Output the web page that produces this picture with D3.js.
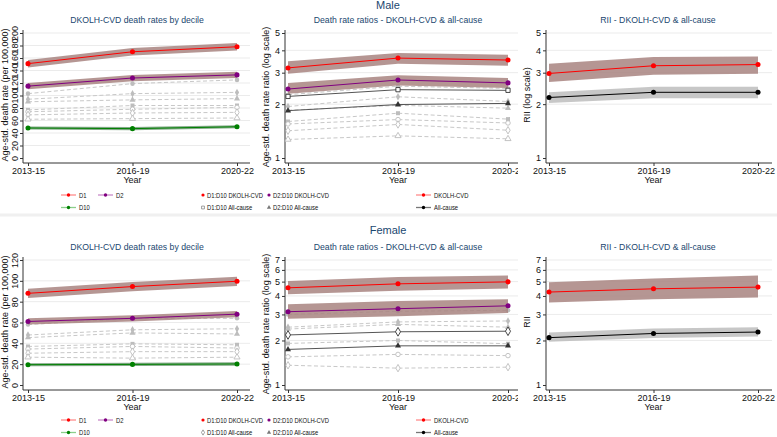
<!DOCTYPE html>
<html><head><meta charset="utf-8">
<script src="https://cdn.jsdelivr.net/npm/d3@7"></script>
<style>body{margin:0;background:#fff}svg{display:block;font-family:"Liberation Sans",Arial,sans-serif}</style>
</head><body><svg id="c" width="777" height="437"></svg>
<script>
const years = ["2013-15","2016-19","2020-22"];

// Male – death rates by decile
const mD1 = [151,170,178], mD1Lo=[145,164,172], mD1Hi=[157,176,184];
const mD2 = [115,128,133], mD2Lo=[110,123,128], mD2Hi=[120,133,138];
const mD10 = [48,47,50], mD10Lo=[45.5,44.5,47.5], mD10Hi=[50.5,49.5,52.5];
const mOther = [[103,119,125],[94,103,105],[90,93,95],[77,84,84],[74,78,81],[69,72,73],[62,63,64]];
// Male – rate ratios
const mR1 = [3.19,3.62,3.53], mR1Lo=[2.96,3.36,3.28], mR1Hi=[3.47,3.86,3.78];
const mR2 = [2.43,2.73,2.63], mR2Lo=[2.29,2.54,2.46], mR2Hi=[2.63,2.90,2.80];
const mA1 = [2.21,2.41,2.39];
const mA2 = [1.84,1.99,2.02];
const mROther = [[2.26,2.52,2.45],[1.94,2.20,2.07],[1.85,1.97,1.90],[1.60,1.78,1.65],[1.55,1.64,1.57],[1.42,1.54,1.43],[1.27,1.33,1.28]];
// Male – RII
const mRiiC = [2.97,3.28,3.33], mRiiCLo=[2.66,2.92,2.96], mRiiCHi=[3.36,3.67,3.70];
const mRiiA = [2.18,2.33,2.33], mRiiALo=[2.03,2.16,2.16], mRiiAHi=[2.33,2.50,2.50];

// Female – death rates by decile
const fD1 = [88,94.5,99.6], fD1Lo=[83.5,90,95], fD1Hi=[92.5,99,104];
const fD2 = [61,64,68], fD2Lo=[58,61,65], fD2Hi=[64,67,71];
const fD10 = [19.5,19.8,20.2], fD10Lo=[18,18.3,18.6], fD10Hi=[21,21.3,21.8];
const fOther = [[58,64,64],[48,53,54],[45.5,50,49],[37,39.5,38.6],[34.5,37,35.5],[30.5,32,32],[26.7,25.8,26.7]];
// Female – rate ratios
const fR1 = [4.54,4.83,4.98], fR1Lo=[4.10,4.34,4.50], fR1Hi=[5.05,5.37,5.50];
const fR2 = [3.13,3.28,3.43], fR2Lo=[2.80,2.92,3.07], fR2Hi=[3.52,3.70,3.80];
const fA1 = [2.18,2.29,2.31];
const fA2 = [1.74,1.84,1.84];
const fROther = [[3.0,3.15,3.2],[2.46,2.67,2.71],[2.39,2.57,2.46],[1.91,2.0,1.9],[1.55,1.61,1.58],[1.36,1.30,1.32]];
// Female – RII
const fRiiC = [4.25,4.47,4.59], fRiiCLo=[3.61,3.80,3.90], fRiiCHi=[4.95,5.24,5.51];
const fRiiA = [2.09,2.23,2.28], fRiiALo=[1.96,2.08,2.13], fRiiAHi=[2.26,2.41,2.46];

const rateTicksM = [0,20,40,60,80,100,120,140,160,180,200];
const rateTicksF = [0,20,40,60,80,100,120];
const logTicksM = [1,2,3,4,5];
const logTicksF = [1,2,3,4,5,6,7];

const svg = d3.select("#c");
const NAVY = "#1a476f", FONT = 9;
const RED="#ff0000", PURPLE="#800080", GREEN="#008000", BLACK="#000000", DGRAY="#555555", LGRAY="#c8c8c8";
const BAND_RED="#a88480", BAND_GREEN="#6f9a74", BAND_GRAY="#bdbdbd";
const otherShapes = [d3.symbolCircle,d3.symbolDiamond,d3.symbolTriangle,d3.symbolSquare,"hc","hd","ht"];

svg.append("line").attr("x1",0).attr("x2",777).attr("y1",215).attr("y2",215).attr("stroke","#f0f0f0").attr("stroke-width",3);

let clipId = 0;
function panel(o){
  const g = svg.append("g");
  if(o.clipRight){
    const id="clip"+(clipId++);
    svg.append("clipPath").attr("id",id).append("rect").attr("x",o.axX-40).attr("y",o.yB-160).attr("width",o.clipRight-(o.axX-40)).attr("height",200);
    g.attr("clip-path",`url(#${id})`);
  }
  const x = d3.scalePoint(years,[o.xL,o.xR]);
  const y = (o.log? d3.scaleLog(): d3.scaleLinear()).domain(o.domain).range([o.yB,o.yT]);
  const axisY = o.yB+5;
  g.selectAll(null).data(o.ticks.slice(1)).join("line")
    .attr("x1",o.axX+1).attr("x2",o.right).attr("y1",d=>y(d)).attr("y2",d=>y(d))
    .attr("stroke","#e6e6e6").attr("stroke-width",0.8);
  const ya = g.append("g").attr("transform",`translate(${o.axX},0)`)
    .call(d3.axisLeft(y).tickValues(o.ticks).tickFormat(d3.format("d")).tickSize(3).tickPadding(2));
  ya.select(".domain").attr("d",`M0,${axisY}V${y(o.domain[1])-3}`).attr("stroke","#333");
  ya.selectAll(".tick line").attr("stroke","#333");
  ya.selectAll("text").attr("font-size",FONT).attr("fill","#111").attr("font-family",null);
  if(o.rotate){
    ya.selectAll("text").attr("transform",`rotate(-90,-8,0)`).attr("text-anchor","middle").attr("x",-8).attr("dy","0.32em").attr("y",0);
  }
  const xa = g.append("g").attr("transform",`translate(0,${axisY})`)
    .call(d3.axisBottom(x).tickSize(3).tickPadding(2));
  xa.select(".domain").attr("d",`M${o.axX},0H${o.right}`).attr("stroke","#333");
  xa.selectAll(".tick line").attr("stroke","#333");
  xa.selectAll("text").attr("font-size",FONT).attr("fill","#111").attr("font-family",null);
  g.append("text").attr("x",x("2016-19")).attr("y",axisY+20).attr("text-anchor","middle").attr("font-size",FONT).attr("fill","#111").text("Year");
  g.append("text").attr("x",o.subX).attr("y",o.yT-10).attr("text-anchor","middle").attr("font-size",8.7).attr("fill",NAVY).text(o.subtitle);
  g.append("text").attr("transform",`translate(${o.ytX},${o.ytY}) rotate(-90)`).attr("text-anchor","middle").attr("font-size",FONT).attr("fill","#111").text(o.ytitle);

  const line = d3.line().x((d,i)=>x(years[i])).y(d=>y(d));
  const area = (lo,hi)=>d3.area().x((d,i)=>x(years[i])).y0((d,i)=>y(lo[i])).y1((d,i)=>y(hi[i]))(lo);
  const sym = (shape,cx,cy,col,size)=>{
    let hollow=false, s=shape;
    if(shape==="hc"){s=d3.symbolCircle;hollow=true}
    if(shape==="hd"){s=d3.symbolDiamond;hollow=true}
    if(shape==="ht"){s=d3.symbolTriangle;hollow=true}
    if(shape==="hs"){s=d3.symbolSquare;hollow=true}
    g.append("path").attr("d",d3.symbol(s,size)()).attr("transform",`translate(${cx},${cy})`)
      .attr("fill",hollow?"#fff":col).attr("stroke",col).attr("stroke-width",hollow?0.9:0);
  };
  (o.others||[]).forEach((s,k)=>{
    g.append("path").attr("d",line(s)).attr("fill","none").attr("stroke",LGRAY).attr("stroke-width",1).attr("stroke-dasharray","4,2.5");
    s.forEach((v,i)=>sym(otherShapes[k%otherShapes.length],x(years[i]),y(v),"#bdbdbd",16));
  });
  (o.bands||[]).forEach(b=>{
    g.append("path").attr("d",area(b.lo,b.hi)).attr("fill",b.color).attr("opacity",0.85);
  });
  (o.series||[]).forEach(s=>{
    g.append("path").attr("d",line(s.v)).attr("fill","none").attr("stroke",s.color).attr("stroke-width",s.w||1);
    s.v.forEach((v,i)=>sym(s.shape||d3.symbolCircle,x(years[i]),y(v),s.mcolor||s.color,s.size||20));
  });
}

function legText(x,y,label){
  const t = svg.append("text").attr("x",x).attr("y",y).attr("dy","0.35em").attr("font-size",7.5).attr("fill","#111").text(label);
  const w = t.node().getComputedTextLength();
  t.attr("textLength",w*0.78).attr("lengthAdjust","spacingAndGlyphs");
}
function legendLine(x,y,col,lcol,label){
  svg.append("line").attr("x1",x).attr("x2",x+15).attr("y1",y).attr("y2",y).attr("stroke",lcol).attr("stroke-width",1.3);
  svg.append("circle").attr("cx",x+7.5).attr("cy",y).attr("r",1.7).attr("fill",col);
  legText(x+18,y,label);
}
function legendSym(x,y,shape,col,hollow,label){
  svg.append("path").attr("d",d3.symbol(shape,8)()).attr("transform",`translate(${x},${y})`)
    .attr("fill",hollow?"#fff":col).attr("stroke",col).attr("stroke-width",hollow?0.7:0);
  legText(x+4,y,label);
}

function half(top, d){
  const yB = top+158, yT = top+33;
  svg.append("text").attr("x",388).attr("y",d.titleY).attr("text-anchor","middle").attr("font-size",11).attr("fill",NAVY).text(d.title);
  panel({axX:23,xL:28,xR:237,right:250,yB:yB,yT:yT,domain:d.rateDomain,ticks:d.rateTicks,rotate:true,
    subX:137,subtitle:"DKOLH-CVD death rates by decile",ytX:8,ytY:top+95,ytitle:"Age-std. death rate (per 100,000)",
    others:d.others,
    bands:[{lo:d.D1Lo,hi:d.D1Hi,color:BAND_RED},{lo:d.D2Lo,hi:d.D2Hi,color:BAND_RED},{lo:d.D10Lo,hi:d.D10Hi,color:BAND_GREEN}],
    series:[{v:d.D1,color:RED},{v:d.D2,color:PURPLE},{v:d.D10,color:GREEN}]});
  panel({axX:285,xL:288,xR:508,right:520,clipRight:518,yB:yB,yT:yT,domain:d.logDomain,ticks:d.logTicks,log:true,
    subX:398,subtitle:"Death rate ratios - DKOLH-CVD & all-cause",ytX:269,ytY:top+97,ytitle:"Age-std. death rate ratio (log scale)",
    others:d.rOthers,
    bands:[{lo:d.R1Lo,hi:d.R1Hi,color:BAND_RED},{lo:d.R2Lo,hi:d.R2Hi,color:BAND_RED}],
    series:[{v:d.A2,color:DGRAY,shape:d3.symbolTriangle,mcolor:"#333",size:16},
            {v:d.A1,color:DGRAY,shape:d.a1Shape,mcolor:"#333",size:d.a1Shape==="hd"?22:18},
            {v:d.R1,color:RED},{v:d.R2,color:PURPLE}]});
  panel({axX:546,xL:549,xR:758,right:772,yB:yB,yT:yT,domain:d.logDomain,ticks:d.logTicks,log:true,
    subX:658,subtitle:"RII - DKOLH-CVD & all-cause",ytX:530,ytY:top+95,ytitle:d.riiTitle,
    bands:[{lo:d.RiiCLo,hi:d.RiiCHi,color:BAND_RED},{lo:d.RiiALo,hi:d.RiiAHi,color:BAND_GRAY}],
    series:[{v:d.RiiC,color:RED},{v:d.RiiA,color:BLACK}]});
  const l1=d.legY, l2=d.legY+12.5;
  legendLine(61,l1,RED,"#ff8c8c","D1");
  legendLine(98,l1,PURPLE,"#c98ac9","D2");
  legendLine(61,l2,GREEN,"#8ccf8c","D10");
  legendSym(203,l1,d3.symbolCircle,RED,false,"D1:D10 DKOLH-CVD");
  legendSym(269,l1,d3.symbolCircle,PURPLE,false,"D2:D10 DKOLH-CVD");
  legendSym(203,l2,d.a1Shape==="hd"?d3.symbolDiamond:d3.symbolSquare,"#777",true,"D1:D10 All-cause");
  legendSym(269,l2,d3.symbolTriangle,"#777",false,"D2:D10 All-cause");
  legendLine(416,l1,RED,"#ff8c8c","DKOLH-CVD");
  legendLine(416,l2,BLACK,"#777","All-cause");
}

half(0,{title:"Male",titleY:9,rateDomain:[0,200],rateTicks:rateTicksM,logDomain:[1,5],logTicks:logTicksM,
  D1:mD1,D1Lo:mD1Lo,D1Hi:mD1Hi,D2:mD2,D2Lo:mD2Lo,D2Hi:mD2Hi,D10:mD10,D10Lo:mD10Lo,D10Hi:mD10Hi,others:mOther,
  R1:mR1,R1Lo:mR1Lo,R1Hi:mR1Hi,R2:mR2,R2Lo:mR2Lo,R2Hi:mR2Hi,A1:mA1,A2:mA2,rOthers:mROther,a1Shape:"hs",
  RiiC:mRiiC,RiiCLo:mRiiCLo,RiiCHi:mRiiCHi,RiiA:mRiiA,RiiALo:mRiiALo,RiiAHi:mRiiAHi,riiTitle:"RII (log scale)",legY:195});
half(227,{title:"Female",titleY:234,rateDomain:[0,120],rateTicks:rateTicksF,logDomain:[1,7],logTicks:logTicksF,
  D1:fD1,D1Lo:fD1Lo,D1Hi:fD1Hi,D2:fD2,D2Lo:fD2Lo,D2Hi:fD2Hi,D10:fD10,D10Lo:fD10Lo,D10Hi:fD10Hi,others:fOther,
  R1:fR1,R1Lo:fR1Lo,R1Hi:fR1Hi,R2:fR2,R2Lo:fR2Lo,R2Hi:fR2Hi,A1:fA1,A2:fA2,rOthers:fROther,a1Shape:"hd",
  RiiC:fRiiC,RiiCLo:fRiiCLo,RiiCHi:fRiiCHi,RiiA:fRiiA,RiiALo:fRiiALo,RiiAHi:fRiiAHi,riiTitle:"RII",legY:420});
</script></body></html>
